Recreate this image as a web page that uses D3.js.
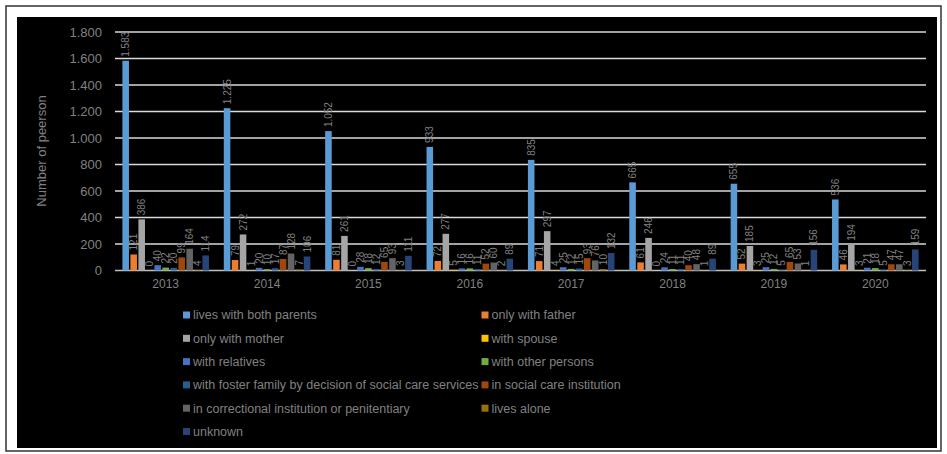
<!DOCTYPE html>
<html><head><meta charset="utf-8">
<script src="https://cdn.jsdelivr.net/npm/d3@7"></script>
<style>body{margin:0;background:#fff}svg{display:block}</style>
</head><body>
<svg id="c" width="947" height="454"></svg>
<script>
const years = ["2013","2014","2015","2016","2017","2018","2019","2020"];
const seriesNames = ["lives with both parents","only with father","only with mother","with spouse","with relatives","with other persons","with foster family by decision of social care services","in social care institution","in correctional institution or penitentiary","lives alone","unknown"];
const seriesColors = ["#5B9BD5","#ED7D31","#A5A5A5","#FFC000","#4472C4","#70AD47","#255E91","#9E480E","#636363","#997300","#264478"];
const bothParents   = [1583,1225,1052,933,835,665,655,536];
const onlyFather    = [121,79,81,72,71,61,52,46];
const onlyMother    = [386,272,261,277,297,246,185,194];
const withSpouse    = [0,1,0,5,4,0,3,3];
const withRelatives = [40,20,28,16,25,24,25,21];
const otherPersons  = [22,10,18,16,12,11,12,18];
const fosterFamily  = [20,17,12,11,15,11,5,5];
const socialCare    = [99,87,65,52,93,40,65,47];
const correctional  = [164,128,93,60,76,48,53,47];
const livesAlone    = [4,7,3,2,10,1,1,3];
const unknown       = [114,106,111,89,132,89,156,159];
const yTicks = [0,200,400,600,800,1000,1200,1400,1600,1800];
const yTitle = "Number of peerson";

const values = [bothParents,onlyFather,onlyMother,withSpouse,withRelatives,otherPersons,fosterFamily,socialCare,correctional,livesAlone,unknown];

const loc = d3.formatLocale({decimal:",",thousands:".",grouping:[3],currency:["",""]});
const fmt = loc.format(",d");

const svg = d3.select("#c");
const font = "'Liberation Sans', Arial, sans-serif";
svg.append("rect").attr("x",6).attr("y",6).attr("width",935).attr("height",445).attr("fill","#fff").attr("stroke","#333").attr("stroke-width",1.5);
svg.append("rect").attr("x",17).attr("y",17).attr("width",920).attr("height",431).attr("fill","#000");

const pLeft=115, pRight=926, pTop=32, pBottom=270.5;
const y = d3.scaleLinear().domain([0,1800]).range([pBottom,pTop]);
const x0 = d3.scaleBand().domain(years).range([pLeft,pRight]).paddingInner(0.132).paddingOuter(0.066);
const x1 = d3.scaleBand().domain(d3.range(seriesNames.length)).range([0,x0.bandwidth()]).paddingInner(0.18).paddingOuter(0.09);

const g = svg.append("g");
g.selectAll("line").data(yTicks).join("line")
  .attr("x1",pLeft).attr("x2",pRight).attr("y1",d=>y(d)).attr("y2",d=>y(d))
  .attr("stroke",d=>d===0?"#bfbfbf":"#d9d9d9").attr("stroke-width",1.3);
const yAxis = d3.axisLeft(y).tickValues(yTicks).tickFormat(fmt).tickSize(0).tickPadding(13);
const ya = svg.append("g").attr("transform",`translate(${pLeft},0)`).call(yAxis);
ya.select(".domain").remove();
ya.selectAll("text").attr("fill","#808080").attr("font-family",font).attr("font-size",13);

const xAxis = d3.axisBottom(x0).tickSize(0).tickPadding(9);
const xa = svg.append("g").attr("transform",`translate(0,${pBottom})`).call(xAxis);
xa.select(".domain").remove();
xa.selectAll("text").attr("fill","#808080").attr("font-family",font).attr("font-size",12);

svg.append("text").attr("transform","translate(46,151) rotate(-90)").attr("text-anchor","middle")
  .attr("fill","#808080").attr("font-family",font).attr("font-size",13).text(yTitle);

const groups = svg.append("g").selectAll("g").data(years).join("g")
  .attr("transform",d=>`translate(${x0(d)},0)`);
groups.each(function(yr,yi){
  const gg = d3.select(this);
  values.forEach((arr,si)=>{
    const v = arr[yi];
    gg.append("rect").attr("x",x1(si)).attr("width",x1.bandwidth())
      .attr("y",y(v)).attr("height",pBottom-y(v)).attr("fill",seriesColors[si]);
    const cx = x1(si)+x1.bandwidth()/2+3.5;
    gg.append("text").attr("transform",`translate(${cx},${y(v)-4}) rotate(-90)`)
      .attr("text-anchor","start").attr("fill","#808080").attr("font-family",font).attr("font-size",10)
      .text(fmt(v));
  });
});

const colX=[183,481.5], rowY0=315, rowH=23.3;
const lg = svg.append("g");
seriesNames.forEach((n,i)=>{
  const cx = colX[i%2], cy = rowY0+Math.floor(i/2)*rowH;
  lg.append("rect").attr("x",cx).attr("y",cy-3.5).attr("width",7).attr("height",7).attr("fill",seriesColors[i]);
  lg.append("text").attr("x",cx+10).attr("y",cy).attr("dy","0.35em").attr("fill","#808080")
    .attr("font-family",font).attr("font-size",12.5).text(n);
});
</script>
</body></html>
